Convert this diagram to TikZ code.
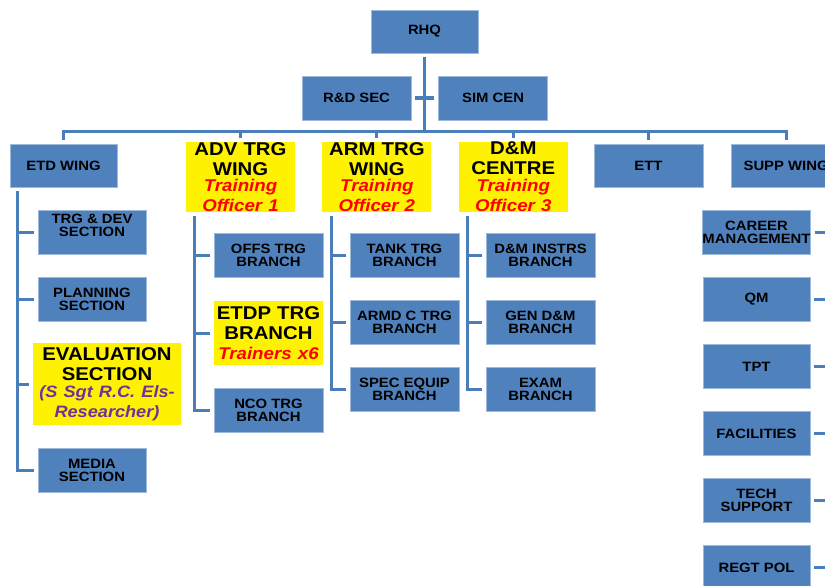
\documentclass[tikz,border=0pt]{standalone}
\usepackage{fontspec}
\newfontfamily\chartfont{Liberation Sans}[FakeStretch=1.1]
\usetikzlibrary{positioning}
\definecolor{unitblue}{HTML}{4F81BD}
\definecolor{linkblue}{HTML}{4A7EBB}
\definecolor{officerred}{HTML}{FF0000}
\definecolor{staffpurple}{HTML}{7030A0}
\newcommand{\boxtxt}{\chartfont\bfseries\fontsize{13.5}{13}\selectfont}
\newcommand{\headtxt}{\chartfont\bfseries\fontsize{18.5}{20}\selectfont}
\newcommand{\offtxt}{\chartfont\bfseries\itshape\fontsize{17}{16.7}\selectfont\color{officerred}}
\newcommand{\restxt}{\chartfont\bfseries\itshape\fontsize{16.5}{16.7}\selectfont\color{staffpurple}}
\tikzstyle{unit}=[draw=unitblue!55!white,line width=.6pt,fill=unitblue,rectangle,minimum width=109pt,minimum height=44pt,inner xsep=0pt,inner ysep=2pt,align=center,font=\boxtxt]
\tikzstyle{hilite}=[fill=yellow,rectangle,inner sep=0pt,text width=109pt,minimum height=66pt,align=center,font=\headtxt]
\tikzstyle{link}=[draw=linkblue,line width=3pt]

\begin{document}
\begin{tikzpicture}[x=1pt,y=-1pt,node distance=67pt]
  \useasboundingbox (0,0) rectangle (825,586);
  \clip (0,0) rectangle (825,586);
  % headquarters
  \node[unit, minimum width=107pt, minimum height=43pt] (rhq) at (424.5,31.5) {RHQ};
  \node[unit] (rnd) at (356.5,98) {R\&D SEC};
  \node[unit, right=27pt of rnd] (sim) {SIM CEN};
  % wings
  \node[unit, minimum width=107pt, minimum height=43pt] (etd) at (63.5,165.5) {ETD WING};
  \node[hilite] (adv) at (240.5,177) {ADV TRG\\WING\\\offtxt Training\\Officer 1};
  \node[hilite, right=27pt of adv] (arm) {ARM TRG\\WING\\\offtxt Training\\Officer 2};
  \node[hilite, right=27pt of arm] (dm) {D\&M\\CENTRE\\\offtxt Training\\Officer 3};
  \node[unit, minimum height=43pt] (ett) at (648.5,165.5) {ETT};
  \node[unit, minimum height=43pt, right=28pt of ett] (supp) {SUPP WING};
  % etd wing
  \node[unit, minimum width=108pt] (trgdev) at (92,232) {};
  \node[font=\boxtxt, align=center] (trgdevtxt) at ([yshift=6.5pt]trgdev.center) {TRG \& DEV\\SECTION};
  \node[unit, minimum width=108pt, below of=trgdev] (plan) {PLANNING\\SECTION};
  \node[hilite, text width=148pt, minimum height=82pt] (eval) at (107,384) {EVALUATION\\SECTION\\\restxt (S Sgt R.C. Els-\\Researcher)};
  \node[unit, minimum width=108pt] (media) at (92,470.5) {MEDIA\\SECTION};
  % adv trg wing
  \node[unit] (offs) at (268.5,255.5) {OFFS TRG\\BRANCH};
  \node[hilite, minimum height=64pt] (etdp) at (268.5,333.3) {ETDP TRG\\BRANCH\\\offtxt Trainers x6};
  \node[unit] (nco) at (268.5,410) {NCO TRG\\BRANCH};
  % arm trg wing
  \node[unit] (tank) at (404.5,255.5) {TANK TRG\\BRANCH};
  \node[unit, below of=tank] (armdc) {ARMD C TRG\\BRANCH};
  \node[unit, below of=armdc] (spec) {SPEC EQUIP\\BRANCH};
  % d&m centre
  \node[unit] (instr) at (540.5,255.5) {D\&M INSTRS\\BRANCH};
  \node[unit, below of=instr] (gen) {GEN D\&M\\BRANCH};
  \node[unit, below of=gen] (exam) {EXAM\\BRANCH};
  % supp wing
  \node[unit, minimum width=107pt] (career) at (756.5,232.5) {CAREER\\MANAGEMENT};
  \node[unit, minimum width=107pt, below of=career] (qm) {QM};
  \node[unit, minimum width=107pt, below of=qm] (tpt) {TPT};
  \node[unit, minimum width=107pt, below of=tpt] (fac) {FACILITIES};
  \node[unit, minimum width=107pt, below of=fac] (tech) {TECH\\SUPPORT};
  \node[unit, minimum width=107pt, below of=tech] (regt) {REGT POL};

  % connectors
  \coordinate (busL) at ([yshift=12pt]etd.north);
  \draw[link] ([yshift=-4pt]rhq.south) -- (rhq.south |- busL);
  \draw[link] ([xshift=4pt]rnd.east) -- ([xshift=-4pt]sim.west);
  \draw[link] ([yshift=4pt]etd.north) -- (busL) -| ([yshift=4pt]supp.north);
  \foreach \w in {adv,arm,dm,ett}
    \draw[link] (\w.north |- busL) -- ([yshift=4pt]\w.north);

  \coordinate (etdspine) at ([shift={(8pt,-4pt)}]etd.south west);
  \draw[link] (etdspine) |- ([xshift=-4pt]media.west);
  \foreach \n in {trgdev,plan,eval}
    \draw[link] (\n.west -| etdspine) -- ([xshift=-4pt]\n.west);

  \coordinate (advspine) at ([shift={(9pt,-4pt)}]adv.south west);
  \draw[link] (advspine) |- ([xshift=-4pt]nco.west);
  \foreach \n in {offs,etdp}
    \draw[link] (\n.west -| advspine) -- ([xshift=-4pt]\n.west);

  \coordinate (armspine) at ([shift={(9pt,-4pt)}]arm.south west);
  \draw[link] (armspine) |- ([xshift=-4pt]spec.west);
  \foreach \n in {tank,armdc}
    \draw[link] (\n.west -| armspine) -- ([xshift=-4pt]\n.west);

  \coordinate (dmspine) at ([shift={(9pt,-4pt)}]dm.south west);
  \draw[link] (dmspine) |- ([xshift=-4pt]exam.west);
  \foreach \n in {instr,gen}
    \draw[link] (\n.west -| dmspine) -- ([xshift=-4pt]\n.west);

  \foreach \n in {career,qm,tpt,fac,tech,regt}
    \draw[link] ([xshift=4pt]\n.east) -- ++(16pt,0);
\end{tikzpicture}
\end{document}
